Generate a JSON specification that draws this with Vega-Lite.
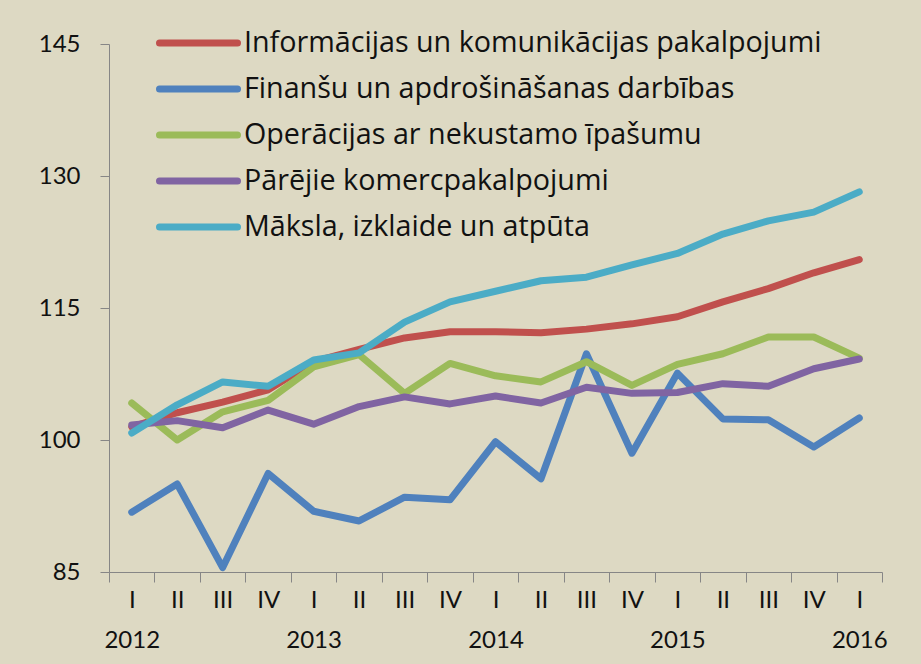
{
  "$schema": "https://vega.github.io/schema/vega-lite/v6.json",
  "width": 773,
  "height": 528,
  "autosize": {"type": "none"},
  "padding": {"left": 109, "top": 44, "right": 39, "bottom": 92},
  "background": "#ddd9c3",
  "config": {
    "view": {"stroke": null},
    "font": "Lato",
    "axis": {"domainColor": "#868686", "tickColor": "#868686", "labelColor": "#111111", "labelFont": "Lato", "grid": false, "title": null}
  },
  "data": {
    "values": [
      {"q":"2012 I","s":"Informācijas un komunikācijas pakalpojumi","v":101.5},
      {"q":"2012 II","s":"Informācijas un komunikācijas pakalpojumi","v":103.1},
      {"q":"2012 III","s":"Informācijas un komunikācijas pakalpojumi","v":104.3},
      {"q":"2012 IV","s":"Informācijas un komunikācijas pakalpojumi","v":105.7},
      {"q":"2013 I","s":"Informācijas un komunikācijas pakalpojumi","v":108.9},
      {"q":"2013 II","s":"Informācijas un komunikācijas pakalpojumi","v":110.3},
      {"q":"2013 III","s":"Informācijas un komunikācijas pakalpojumi","v":111.6},
      {"q":"2013 IV","s":"Informācijas un komunikācijas pakalpojumi","v":112.3},
      {"q":"2014 I","s":"Informācijas un komunikācijas pakalpojumi","v":112.3},
      {"q":"2014 II","s":"Informācijas un komunikācijas pakalpojumi","v":112.2},
      {"q":"2014 III","s":"Informācijas un komunikācijas pakalpojumi","v":112.6},
      {"q":"2014 IV","s":"Informācijas un komunikācijas pakalpojumi","v":113.2},
      {"q":"2015 I","s":"Informācijas un komunikācijas pakalpojumi","v":114.0},
      {"q":"2015 II","s":"Informācijas un komunikācijas pakalpojumi","v":115.7},
      {"q":"2015 III","s":"Informācijas un komunikācijas pakalpojumi","v":117.2},
      {"q":"2015 IV","s":"Informācijas un komunikācijas pakalpojumi","v":119.0},
      {"q":"2016 I","s":"Informācijas un komunikācijas pakalpojumi","v":120.5},

      {"q":"2012 I","s":"Finanšu un apdrošināšanas darbības","v":91.8},
      {"q":"2012 II","s":"Finanšu un apdrošināšanas darbības","v":95.0},
      {"q":"2012 III","s":"Finanšu un apdrošināšanas darbības","v":85.5},
      {"q":"2012 IV","s":"Finanšu un apdrošināšanas darbības","v":96.2},
      {"q":"2013 I","s":"Finanšu un apdrošināšanas darbības","v":91.9},
      {"q":"2013 II","s":"Finanšu un apdrošināšanas darbības","v":90.8},
      {"q":"2013 III","s":"Finanšu un apdrošināšanas darbības","v":93.5},
      {"q":"2013 IV","s":"Finanšu un apdrošināšanas darbības","v":93.2},
      {"q":"2014 I","s":"Finanšu un apdrošināšanas darbības","v":99.8},
      {"q":"2014 II","s":"Finanšu un apdrošināšanas darbības","v":95.6},
      {"q":"2014 III","s":"Finanšu un apdrošināšanas darbības","v":109.8},
      {"q":"2014 IV","s":"Finanšu un apdrošināšanas darbības","v":98.5},
      {"q":"2015 I","s":"Finanšu un apdrošināšanas darbības","v":107.6},
      {"q":"2015 II","s":"Finanšu un apdrošināšanas darbības","v":102.4},
      {"q":"2015 III","s":"Finanšu un apdrošināšanas darbības","v":102.3},
      {"q":"2015 IV","s":"Finanšu un apdrošināšanas darbības","v":99.2},
      {"q":"2016 I","s":"Finanšu un apdrošināšanas darbības","v":102.5},

      {"q":"2012 I","s":"Operācijas ar nekustamo īpašumu","v":104.2},
      {"q":"2012 II","s":"Operācijas ar nekustamo īpašumu","v":100.0},
      {"q":"2012 III","s":"Operācijas ar nekustamo īpašumu","v":103.2},
      {"q":"2012 IV","s":"Operācijas ar nekustamo īpašumu","v":104.5},
      {"q":"2013 I","s":"Operācijas ar nekustamo īpašumu","v":108.3},
      {"q":"2013 II","s":"Operācijas ar nekustamo īpašumu","v":109.7},
      {"q":"2013 III","s":"Operācijas ar nekustamo īpašumu","v":105.3},
      {"q":"2013 IV","s":"Operācijas ar nekustamo īpašumu","v":108.7},
      {"q":"2014 I","s":"Operācijas ar nekustamo īpašumu","v":107.3},
      {"q":"2014 II","s":"Operācijas ar nekustamo īpašumu","v":106.6},
      {"q":"2014 III","s":"Operācijas ar nekustamo īpašumu","v":108.9},
      {"q":"2014 IV","s":"Operācijas ar nekustamo īpašumu","v":106.2},
      {"q":"2015 I","s":"Operācijas ar nekustamo īpašumu","v":108.6},
      {"q":"2015 II","s":"Operācijas ar nekustamo īpašumu","v":109.8},
      {"q":"2015 III","s":"Operācijas ar nekustamo īpašumu","v":111.7},
      {"q":"2015 IV","s":"Operācijas ar nekustamo īpašumu","v":111.7},
      {"q":"2016 I","s":"Operācijas ar nekustamo īpašumu","v":109.3},

      {"q":"2012 I","s":"Pārējie komercpakalpojumi","v":101.7},
      {"q":"2012 II","s":"Pārējie komercpakalpojumi","v":102.2},
      {"q":"2012 III","s":"Pārējie komercpakalpojumi","v":101.4},
      {"q":"2012 IV","s":"Pārējie komercpakalpojumi","v":103.4},
      {"q":"2013 I","s":"Pārējie komercpakalpojumi","v":101.8},
      {"q":"2013 II","s":"Pārējie komercpakalpojumi","v":103.8},
      {"q":"2013 III","s":"Pārējie komercpakalpojumi","v":104.9},
      {"q":"2013 IV","s":"Pārējie komercpakalpojumi","v":104.1},
      {"q":"2014 I","s":"Pārējie komercpakalpojumi","v":105.0},
      {"q":"2014 II","s":"Pārējie komercpakalpojumi","v":104.2},
      {"q":"2014 III","s":"Pārējie komercpakalpojumi","v":106.0},
      {"q":"2014 IV","s":"Pārējie komercpakalpojumi","v":105.3},
      {"q":"2015 I","s":"Pārējie komercpakalpojumi","v":105.4},
      {"q":"2015 II","s":"Pārējie komercpakalpojumi","v":106.4},
      {"q":"2015 III","s":"Pārējie komercpakalpojumi","v":106.1},
      {"q":"2015 IV","s":"Pārējie komercpakalpojumi","v":108.1},
      {"q":"2016 I","s":"Pārējie komercpakalpojumi","v":109.2},

      {"q":"2012 I","s":"Māksla, izklaide un atpūta","v":100.8},
      {"q":"2012 II","s":"Māksla, izklaide un atpūta","v":104.0},
      {"q":"2012 III","s":"Māksla, izklaide un atpūta","v":106.6},
      {"q":"2012 IV","s":"Māksla, izklaide un atpūta","v":106.1},
      {"q":"2013 I","s":"Māksla, izklaide un atpūta","v":109.1},
      {"q":"2013 II","s":"Māksla, izklaide un atpūta","v":109.9},
      {"q":"2013 III","s":"Māksla, izklaide un atpūta","v":113.4},
      {"q":"2013 IV","s":"Māksla, izklaide un atpūta","v":115.7},
      {"q":"2014 I","s":"Māksla, izklaide un atpūta","v":116.9},
      {"q":"2014 II","s":"Māksla, izklaide un atpūta","v":118.1},
      {"q":"2014 III","s":"Māksla, izklaide un atpūta","v":118.5},
      {"q":"2014 IV","s":"Māksla, izklaide un atpūta","v":119.9},
      {"q":"2015 I","s":"Māksla, izklaide un atpūta","v":121.2},
      {"q":"2015 II","s":"Māksla, izklaide un atpūta","v":123.4},
      {"q":"2015 III","s":"Māksla, izklaide un atpūta","v":124.9},
      {"q":"2015 IV","s":"Māksla, izklaide un atpūta","v":125.9},
      {"q":"2016 I","s":"Māksla, izklaide un atpūta","v":128.2}
    ]
  },
  "mark": {"type": "line", "strokeWidth": 7, "strokeCap": "round", "strokeJoin": "round"},
  "encoding": {
    "x": {
      "field": "q", "type": "ordinal", "sort": null, "bandPosition": 0.5,
      "scale": {"type": "band", "paddingInner": 0, "paddingOuter": 0},
      "axis": {
        "tickBand": "extent", "tickSize": 10, "labelAngle": 0, "labelFontSize": 24,
        "labelPadding": 6, "labelLineHeight": 40,
        "labelExpr": "split(datum.value, ' ')[1] == 'I' ? ['I', split(datum.value, ' ')[0]] : split(datum.value, ' ')[1]"
      }
    },
    "y": {
      "field": "v", "type": "quantitative",
      "scale": {"domain": [85, 145], "zero": false, "nice": false},
      "axis": {"values": [85, 100, 115, 130, 145], "tickSize": 9, "labelFontSize": 24, "labelPadding": 20}
    },
    "color": {
      "field": "s", "type": "nominal",
      "scale": {
        "domain": ["Informācijas un komunikācijas pakalpojumi", "Finanšu un apdrošināšanas darbības", "Operācijas ar nekustamo īpašumu", "Pārējie komercpakalpojumi", "Māksla, izklaide un atpūta"],
        "range": ["#c0504d", "#4f81bd", "#9bbb59", "#8064a2", "#4bacc6"]
      },
      "legend": {
        "title": null, "orient": "none", "legendX": 47, "legendY": -24,
        "symbolType": "stroke", "symbolSize": 6084, "symbolStrokeWidth": 7,
        "clipHeight": 46,
        "labelFont": "Open Sans", "labelFontSize": 28.7, "labelColor": "#111111", "labelOffset": 3, "rowPadding": 0,
        "labelLimit": 800,
        "encode": {"symbols": {"update": {"strokeCap": {"value": "round"}}}}
      }
    }
  }
}
